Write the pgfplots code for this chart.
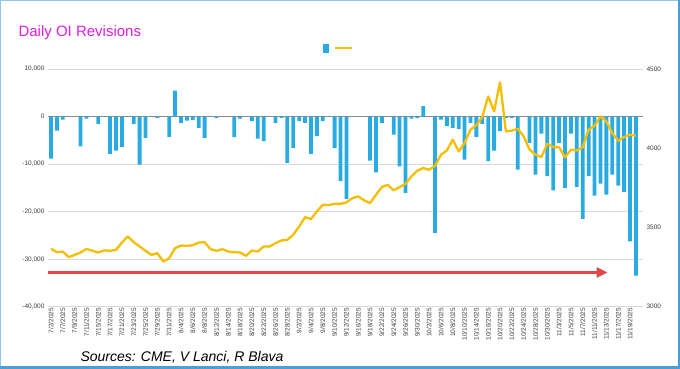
\documentclass[border=0pt]{standalone}
\usepackage{pgfplots}
\pgfplotsset{compat=1.18}
\usepackage{pgfplotstable}
\usepackage{fontspec}
\setmainfont{Liberation Sans}
\usetikzlibrary{arrows.meta}
\definecolor{barblue}{HTML}{29ABE2}
\definecolor{gold}{HTML}{F5BE00}
\definecolor{arrowred}{HTML}{E04848}
\definecolor{titlemag}{HTML}{E020E0}
\definecolor{frameblue}{HTML}{4A9FD8}

\pgfplotstableread{
i oi gold
0 -8840 3365
1 -2950 3344
2 -630 3348
3 0 3313
4 0 3327
5 -6250 3342
6 -420 3365
7 0 3353
8 -1540 3342
9 0 3355
10 -7860 3353
11 -7160 3359
12 -6390 3405
13 0 3443
14 -1540 3407
15 -10110 3380
16 -4490 3353
17 0 3327
18 -280 3338
19 0 3285
20 -4280 3306
21 5470 3369
22 -1330 3386
23 -840 3384
24 -770 3388
25 -2390 3405
26 -4490 3407
27 0 3363
28 -280 3353
29 0 3363
30 0 3348
31 -4350 3344
32 -420 3342
33 0 3321
34 -980 3355
35 -4630 3348
36 -5190 3380
37 0 3380
38 -1330 3401
39 -280 3418
40 -9750 3422
41 -6600 3454
42 -980 3506
43 -1330 3565
44 -7860 3553
45 -4140 3601
46 -980 3643
47 0 3641
48 -6600 3649
49 -13600 3649
50 -17330 3658
51 0 3685
52 0 3696
53 0 3671
54 -9260 3654
55 -11720 3706
56 -1330 3755
57 0 3769
58 -3790 3734
59 -10460 3755
60 -16070 3775
61 -450 3822
62 -350 3858
63 2180 3875
64 0 3864
65 -24490 3889
66 -630 3959
67 -2040 3986
68 -2390 4054
69 -2600 3980
70 -9050 4033
71 -1330 4117
72 -4280 4146
73 -1540 4197
74 -9400 4327
75 -7160 4233
76 -3090 4416
77 -280 4106
78 -280 4111
79 -11160 4123
80 0 4075
81 -5540 3991
82 -12210 3959
83 -3580 3944
84 -12560 4028
85 -15510 4007
86 -5540 4007
87 -15020 3942
88 -3580 3991
89 -14810 3986
90 -21540 4007
91 -12560 4117
92 -16630 4142
93 -14110 4201
94 -16420 4169
95 -12210 4096
96 -14530 4047
97 -15860 4071
98 -26250 4085
99 -33470 4079
}\data

\begin{document}
\begin{tikzpicture}[x=1pt,y=1pt]
\path[use as bounding box] (0,0) rectangle (680,369);
\fill[white] (0,0) rectangle (680,369);
\draw[frameblue!60, line width=0.8pt] (0.4,0.4) rectangle (679.6,368.6);
\fill[frameblue] (0,0) rectangle (680,2.5);
\fill[frameblue] (677.5,0) rectangle (680,369);

\begin{axis}[
  at={(48pt,62.3pt)}, anchor=south west,
  width=595pt, height=237.7pt, scale only axis,
  xmin=-0.51, xmax=100.2, ymin=-40000, ymax=10000,
  scaled y ticks=false,
  axis line style={draw=none}, major tick length=0pt,
  ytick={-40000,-30000,-20000,-10000,0,10000},
  yticklabels={{-40,000},{-30,000},{-20,000},{-10,000},{0},{10,000}},
  ymajorgrids, grid style={black!15, line width=0.6pt},
  extra y ticks={0}, extra y tick labels={},
  extra y tick style={grid style={black!45, line width=0.7pt}},
  yticklabel style={font=\fontsize{6.5}{7}\selectfont, text=black!75},
  xtick={0,2,...,98},
  xticklabels={7/2/2025,7/7/2025,7/9/2025,7/11/2025,7/15/2025,7/17/2025,7/21/2025,7/23/2025,7/25/2025,7/29/2025,7/31/2025,8/4/2025,8/6/2025,8/8/2025,8/12/2025,8/14/2025,8/18/2025,8/20/2025,8/22/2025,8/26/2025,8/28/2025,9/2/2025,9/4/2025,9/8/2025,9/10/2025,9/12/2025,9/16/2025,9/18/2025,9/22/2025,9/24/2025,9/26/2025,9/30/2025,10/2/2025,10/6/2025,10/8/2025,10/10/2025,10/14/2025,10/16/2025,10/20/2025,10/22/2025,10/24/2025,10/28/2025,10/30/2025,11/3/2025,11/5/2025,11/7/2025,11/11/2025,11/13/2025,11/17/2025,11/19/2025},
  xticklabel style={rotate=90, anchor=east, font=\fontsize{6.5}{7}\selectfont, text=black!75, inner sep=1pt},
  clip=false,
]
\addplot[ybar, bar width=3.8pt, fill=barblue, draw=none] table[x=i,y=oi]{\data};
\addplot[arrowred, line width=2.6pt, -{Triangle[length=11pt,width=10pt]}] coordinates {(-0.51,-32800) (94.2,-32800)};
\end{axis}

\begin{axis}[
  at={(48pt,62.3pt)}, anchor=south west,
  width=595pt, height=237.7pt, scale only axis,
  xmin=-0.51, xmax=100.2, ymin=3000, ymax=4500,
  axis y line*=right, hide x axis,
  axis line style={draw=none}, major tick length=0pt,
  ytick={3000,3500,4000,4500},
  yticklabels={3000,3500,4000,4500},
  yticklabel style={font=\fontsize{6.5}{7}\selectfont, text=black!75},
  legend style={at={(0.491,1.088)}, anchor=center, draw=none, fill=none,
    legend columns=2, /tikz/every even column/.append style={column sep=2pt}},
]
\addlegendimage{legend image code/.code={\fill[barblue] (0pt,-4pt) rectangle (5pt,4pt);}}
\addlegendentry{}
\addplot[gold, line width=2.3pt, line join=round] table[x=i,y=gold]{\data};
\addlegendentry{}
\end{axis}

\node[anchor=base west, text=titlemag, font=\fontsize{15}{18}\selectfont] at (15,332) {Daily OI Revisions};
\node[anchor=base west, font=\fontsize{14}{16}\selectfont\itshape] at (77,7) {Sources: CME, V Lanci, R Blava};
\end{tikzpicture}
\end{document}
